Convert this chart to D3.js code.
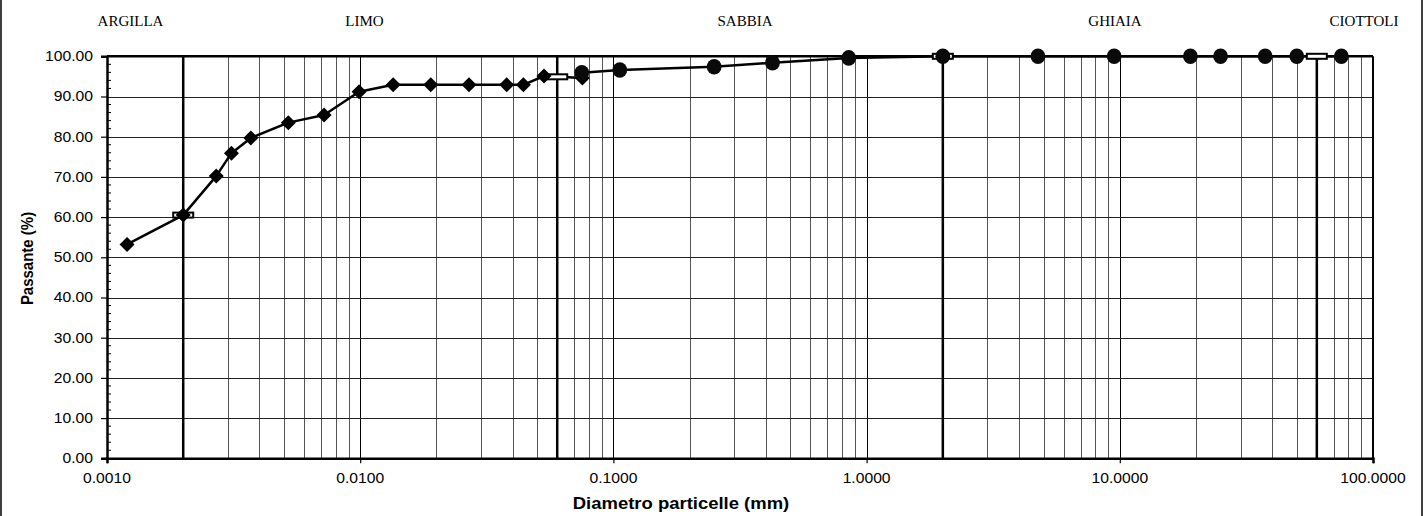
<!DOCTYPE html>
<html>
<head>
<meta charset="utf-8">
<script src="https://cdn.jsdelivr.net/npm/d3@7"></script>
<style>
  html, body { margin: 0; padding: 0; background: #fff; }
  svg { display: block; }
</style>
</head>
<body>
<svg id="chart" width="1426" height="516"></svg>
<script>
// ---- data ----
const hydroDiam = [0.0012, 0.0020, 0.0027, 0.0031, 0.0037, 0.0052, 0.0072, 0.0099, 0.0135, 0.0190, 0.0269, 0.0379, 0.0441, 0.0532, 0.0754];
const hydroPass = [53.2, 60.5, 70.2, 75.9, 79.7, 83.5, 85.4, 91.2, 92.9, 92.9, 92.9, 92.9, 92.9, 95.1, 94.6];
const sieveDiam = [0.075, 0.106, 0.25, 0.425, 0.85, 2.0, 4.75, 9.5, 19, 25, 37.5, 50, 75];
const sievePass = [95.9, 96.6, 97.4, 98.4, 99.6, 100, 100, 100, 100, 100, 100, 100, 100];
const boundaryDiam = [0.002, 0.06, 2, 60];
const boundaryPass = [60.5, 94.9, 100, 100];
const classNames = ["ARGILLA", "LIMO", "SABBIA", "GHIAIA", "CIOTTOLI"];
const xTicks = [0.001, 0.01, 0.1, 1, 10, 100];
const yTicks = [0, 10, 20, 30, 40, 50, 60, 70, 80, 90, 100];
const xTitle = "Diametro particelle (mm)";
const yTitle = "Passante (%)";

// ---- layout ----
const L = 107, R = 1373, T = 56.3, B = 458.3;
const classLabelX = [130.5, 364.5, 745, 1115, 1364];
const SX = 1.12; // horizontal text stretch

const svg = d3.select("#chart");
const x = d3.scaleLog().domain([0.001, 100]).range([L, R]);
const y = d3.scaleLinear().domain([0, 100]).range([B, T]);

// outer frame
svg.append("rect").attr("x", 1).attr("y", -3).attr("width", 1421).attr("height", 530)
  .attr("fill", "none").attr("stroke", "#000").attr("stroke-width", 1.5);

const g = svg.append("g");

// vertical minor gridlines (log)
const minor = [];
for (let e = -3; e < 2; e++) for (let m = 2; m <= 9; m++) minor.push(m * Math.pow(10, e));
g.selectAll(".vminor").data(minor).enter().append("line")
  .attr("x1", d => Math.round(x(d)) + 0.5).attr("x2", d => Math.round(x(d)) + 0.5)
  .attr("y1", T).attr("y2", B).attr("stroke", "#555").attr("stroke-width", 1);
// decade gridlines
g.selectAll(".vmajor").data(xTicks.slice(1, -1)).enter().append("line")
  .attr("x1", d => Math.round(x(d)) + 0.5).attr("x2", d => Math.round(x(d)) + 0.5)
  .attr("y1", T).attr("y2", B).attr("stroke", "#000").attr("stroke-width", 1);
// horizontal gridlines
g.selectAll(".hgrid").data(yTicks.slice(1, -1)).enter().append("line")
  .attr("x1", L).attr("x2", R)
  .attr("y1", d => Math.round(y(d)) + 0.5).attr("y2", d => Math.round(y(d)) + 0.5)
  .attr("stroke", "#222").attr("stroke-width", 1);
// boundary lines
g.selectAll(".bnd").data(boundaryDiam).enter().append("line")
  .attr("x1", d => x(d)).attr("x2", d => x(d))
  .attr("y1", T).attr("y2", B).attr("stroke", "#000").attr("stroke-width", 2.5);

// plot frame top/right
g.append("line").attr("x1", L).attr("x2", R).attr("y1", T).attr("y2", T)
  .attr("stroke", "#000").attr("stroke-width", 2.5);
g.append("line").attr("x1", R).attr("x2", R).attr("y1", T).attr("y2", B)
  .attr("stroke", "#000").attr("stroke-width", 2);

// y axis (major ticks outside)
const yAxis = d3.axisLeft(y).tickValues(yTicks).tickSize(6).tickFormat("");
const ya = g.append("g").attr("transform", `translate(${L},0)`).call(yAxis);
ya.select(".domain").attr("stroke-width", 2.5);
ya.selectAll(".tick line").attr("stroke-width", 1.2);
// minor ticks inside
const yMinor = d3.range(0, 101, 2).filter(v => v % 10 !== 0);
g.selectAll(".ymin").data(yMinor).enter().append("line")
  .attr("x1", L).attr("x2", L + 4)
  .attr("y1", d => y(d)).attr("y2", d => y(d))
  .attr("stroke", "#000").attr("stroke-width", 1);

// x axis
const xAxis = d3.axisBottom(x).tickValues(xTicks).tickSize(5).tickFormat("");
const xa = g.append("g").attr("transform", `translate(0,${B})`).call(xAxis);
xa.select(".domain").attr("stroke-width", 2.5);
xa.selectAll(".tick line").attr("stroke-width", 1.2);

function stext(px, py, str, opts) {
  const t = svg.append("text")
    .attr("transform", `translate(${px},${py}) scale(${opts.sx || SX},1)` + (opts.rot ? ` rotate(${opts.rot})` : ""))
    .attr("text-anchor", opts.anchor || "middle")
    .attr("font-family", opts.family || "Arial, 'Liberation Sans', sans-serif")
    .attr("font-size", opts.size || 14)
    .attr("font-weight", opts.weight || "normal")
    .attr("fill", "#000")
    .text(str);
  if (opts.dy) t.attr("dy", opts.dy);
  return t;
}

const fy = d3.format(".2f"), fx = d3.format(".4f");
yTicks.forEach(v => stext(93, y(v), fy(v), {anchor: "end", dy: "0.35em"}));
xTicks.forEach(v => stext(x(v), 483, fx(v), {}));

stext(681, 509, xTitle, {weight: "bold", size: 16.5});
stext(33, 258.5, yTitle, {weight: "bold", size: 15, rot: -90});

classNames.forEach((n, i) => stext(classLabelX[i], 26, n,
  {family: "'Liberation Serif', 'Times New Roman', serif", size: 15, sx: 1.0}));

// series lines
const line = d3.line().x(d => x(d[0])).y(d => y(d[1]));
const hydro = hydroDiam.map((d, i) => [d, hydroPass[i]]);
const sieve = sieveDiam.map((d, i) => [d, sievePass[i]]);
g.append("path").datum(hydro).attr("d", line).attr("fill", "none")
  .attr("stroke", "#000").attr("stroke-width", 2.5).attr("stroke-linejoin", "round");
g.append("path").datum(sieve).attr("d", line).attr("fill", "none")
  .attr("stroke", "#000").attr("stroke-width", 2.5).attr("stroke-linejoin", "round");

// boundary markers (dash)
g.selectAll(".bm").data(boundaryDiam.map((d, i) => [d, boundaryPass[i]])).enter().append("rect")
  .attr("x", d => x(d[0]) - 10).attr("y", d => y(d[1]) - 2.5)
  .attr("width", 20).attr("height", 5)
  .attr("fill", "#fff").attr("stroke", "#000").attr("stroke-width", 2);

// diamonds
g.selectAll(".dm").data(hydro).enter().append("path")
  .attr("d", d => { const cx = x(d[0]), cy = y(d[1]);
    return `M${cx},${cy-7.5}L${cx+7.5},${cy}L${cx},${cy+7.5}L${cx-7.5},${cy}Z`; })
  .attr("fill", "#000");
// circles
g.selectAll(".ci").data(sieve).enter().append("ellipse")
  .attr("cx", d => x(d[0])).attr("cy", d => y(d[1]))
  .attr("rx", 7.4).attr("ry", 7.8).attr("fill", "#0a0a0a");
</script>
</body>
</html>
